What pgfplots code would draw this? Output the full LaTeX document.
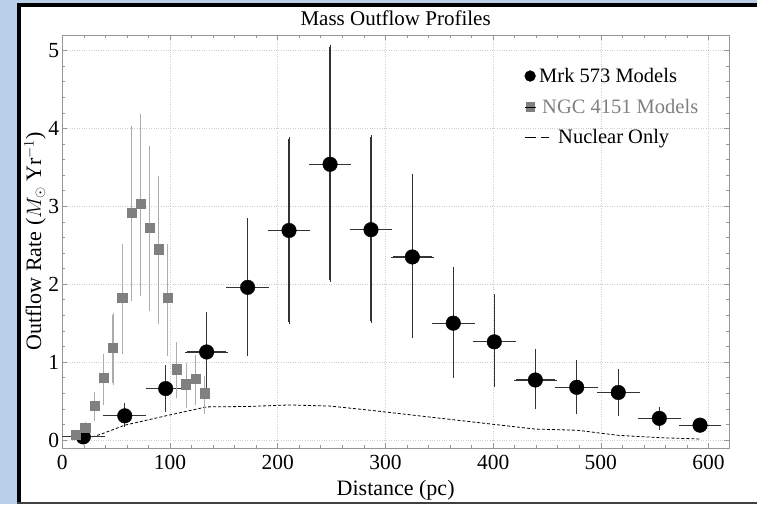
\documentclass[border=0pt]{standalone}
\usepackage{fontspec}
\setmainfont{Liberation Serif}
\usepackage{pgfplots}
\pgfplotsset{compat=1.18}
\usepackage{pgfplotstable}
\definecolor{bgblue}{RGB}{185,207,232}
\definecolor{ngcgray}{RGB}{128,128,128}
\definecolor{ngcbar}{RGB}{172,172,172}
\definecolor{axgray}{RGB}{150,150,150}
\definecolor{gridgray}{RGB}{205,205,205}

\pgfplotstableread{
x y ex ep em
19.5 0.04 18.5 0.03 0.03
58 0.31 18 0.135 0.12
96 0.66 16 0.28 0.27
134 1.13 18 0.49 0.49
172.1 1.96 18 0.86 0.85
210.5 2.69 18 1.18 1.17
248.6 3.54 18 1.51 1.49
286.6 2.70 18 1.19 1.17
325 2.35 18 1.04 1.015
363 1.50 18 0.70 0.68
401.1 1.26 18 0.59 0.56
439.2 0.77 18 0.37 0.35
477.6 0.676 18 0.33 0.32
516.2 0.61 18 0.27 0.27
554.3 0.278 18 0.12 0.12
592.1 0.19 18 0.03 0.03
}\mrk

\pgfplotstableread{
x y ep em
12.7 0.064 0.02 0.02
21.3 0.16 0.04 0.04
29.9 0.445 0.145 0.175
38.5 0.80 0.28 0.32
47.1 1.185 0.425 0.455
55.7 1.83 0.66 0.70
64.3 2.92 1.09 1.11
72.5 3.03 1.13 1.16
80.8 2.73 1.02 1.05
89.2 2.45 0.92 0.93
97.5 1.83 0.66 0.72
106.2 0.91 0.32 0.35
114.9 0.715 0.245 0.285
123.5 0.79 0.28 0.31
132.2 0.60 0.19 0.24
}\ngc

\pgfplotstableread{
x y
19 0.0
37 0.08
58 0.19
96 0.31
134 0.425
172 0.43
211 0.45
249 0.435
287 0.38
325 0.32
363 0.26
401 0.20
439 0.14
478 0.125
516 0.06
554 0.03
593 0.012
}\nuc

\begin{document}
\begin{tikzpicture}[x=1pt,y=1pt]
\fill[bgblue] (0,0) rectangle (757,504);
\fill[white] (17,0) rectangle (757,501);
\fill[black] (17,497) rectangle (757,501);
\fill[black] (17,0) rectangle (21,501);
\fill[black!75] (17,0) rectangle (757,2.5);
\begin{axis}[
  at={(62.3pt,56pt)}, anchor=south west,
  scale only axis, width=666.7pt, height=413pt,
  xmin=0, xmax=619, ymin=-0.103, ymax=5.2,
  xtick={0,100,...,600}, ytick={0,1,...,5},
  minor x tick num=4, minor y tick num=4,
  tick align=inside, major tick length=5pt, minor tick length=3pt,
  axis line style={axgray, line width=0.8pt},
  every tick/.style={axgray, line width=0.6pt},
  grid=major, major grid style={gridgray, dotted, line width=0.6pt},
  /pgf/number format/assume math mode=true,
  tick label style={font=\fontsize{21.5}{25}\selectfont},
  xticklabel style={inner sep=0pt, yshift=-7pt},
  yticklabel style={inner sep=0pt, xshift=-3pt},
  title={Mass Outflow Profiles},
  every axis title shift=0pt,
  title style={at={(axis description cs:0.5,1.024)}, anchor=base, font=\fontsize{21}{25}\selectfont, inner sep=0pt},
  xlabel={Distance (pc)},
  xlabel style={at={(axis description cs:0.5,-0.114)}, anchor=base, font=\fontsize{22}{26}\selectfont, inner sep=0pt},
  ylabel={Outflow Rate ($M_{\odot}$ Yr$^{-1}$)},
  ylabel style={at={(axis description cs:-0.041,0.5)}, anchor=center, font=\fontsize{22}{26}\selectfont, inner sep=0pt},
  legend style={at={(axis description cs:0.693,0.925)}, anchor=north west, draw=none, fill=none, inner sep=0pt,
    font=\fontsize{20.5}{24}\selectfont, row sep=11pt, column sep=1.5pt},
  legend cell align=left,
]
\addplot[black, line width=0.8pt, dash pattern=on 3pt off 2pt, forget plot] table[x=x,y=y]{\nuc};
\addplot[forget plot, only marks, mark=*, mark size=7.3pt, mark options={fill=black, draw=black},
  error bars/.cd, x dir=both, x explicit, y dir=both, y explicit,
  error bar style={black!80, line width=1.2pt},
  error mark options={black!80, mark size=2pt, line width=0.8pt}]
  table[x=x, y=y, x error=ex, y error plus=ep, y error minus=em]{\mrk};
\addplot[forget plot, only marks, mark=square*, mark size=4.6pt, mark options={fill=ngcgray, draw=ngcgray},
  error bars/.cd, y dir=both, y explicit,
  error bar style={ngcbar, line width=1.1pt},
  error mark options={ngcbar, mark size=2pt, line width=0.8pt}]
  table[x=x, y=y, y error plus=ep, y error minus=em]{\ngc};
\addlegendimage{legend image code/.code={\fill[black] (0pt,0pt) circle (5.4pt);}}
\addlegendentry{Mrk 573 Models}
\addlegendimage{legend image code/.code={\fill[ngcgray] (-4.3pt,-4.3pt) rectangle (4.3pt,4.3pt); \path (-5.4pt,0pt) -- (5.4pt,0pt);}}
\addlegendentry{\hspace*{3pt}\textcolor{ngcgray}{NGC 4151 Models}}
\addlegendimage{legend image code/.code={\draw[overlay, black, line width=1pt, dash pattern=on 8pt off 6pt] (-3pt,0pt) -- (19pt,0pt); \path (-5.4pt,0pt) -- (5.4pt,0pt);}}
\addlegendentry{\hspace*{19pt}Nuclear Only}
\end{axis}
\pgfresetboundingbox
\useasboundingbox (0,0) rectangle (757,504);
\end{tikzpicture}
\end{document}
